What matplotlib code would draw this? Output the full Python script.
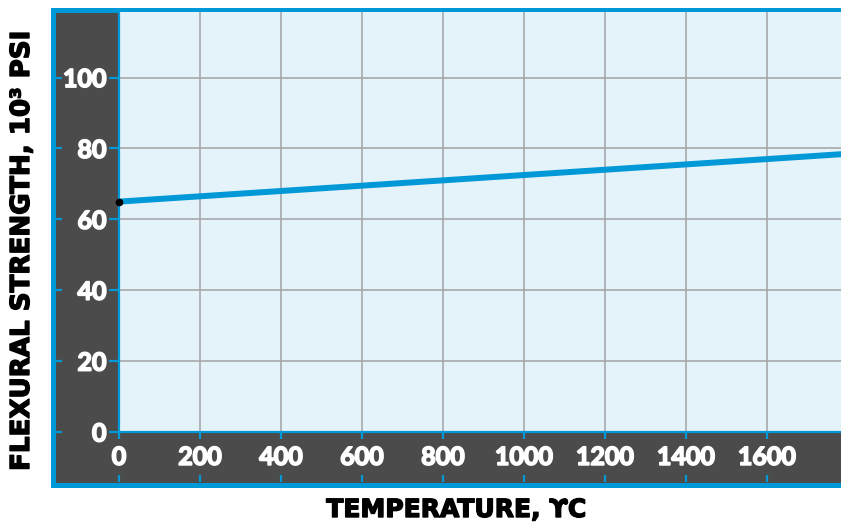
import numpy as np
import matplotlib.pyplot as plt
import matplotlib.patheffects as pe

# data
temp = [0, 1800]
strength = [65, 78.5]
xticks = [0, 200, 400, 600, 800, 1000, 1200, 1400, 1600]
yticks = [0, 20, 40, 60, 80, 100]

blue = '#0098d6'
dark = '#4b4b4b'
pale = '#e4f2fa'
W, H = 841, 527

def box(l, t, r, b):
    # pixel box -> figure fraction rect
    return [l / W, 1 - b / H, (r - l) / W, (b - t) / H]

plt.rcParams['font.family'] = ['Lato', 'DejaVu Sans']

fig = plt.figure(figsize=(W / 100, H / 100), dpi=100)

# dark frame with blue border
bg = fig.add_axes(box(52.5, 9.5, 860, 484.5))
bg.set_facecolor(dark)
bg.set_xticks([])
bg.set_yticks([])
for s in bg.spines.values():
    s.set_color(blue)
    s.set_linewidth(3.6)

ax = fig.add_axes(box(119, 12, 841, 432))
ax.set_facecolor(pale)
ax.set_xlim(0, 1783)
ax.set_ylim(0, 118.5)
ax.set_xticks(xticks)
ax.set_yticks(yticks)
ax.grid(True, color='#a3a3a3', linewidth=1.1)
ax.set_axisbelow(True)
for k in ['top', 'right']:
    ax.spines[k].set_visible(False)
for k in ['left', 'bottom']:
    ax.spines[k].set_color(blue)
    ax.spines[k].set_linewidth(1.6)

ax.tick_params(axis='y', direction='out', length=7, width=1.6, color=blue,
               labelcolor='white', labelsize=18, pad=2)
ax.tick_params(axis='x', direction='out', length=5, width=1.6, color=blue,
               labelcolor='white', labelsize=18, pad=5)
thick = [pe.withStroke(linewidth=1.2, foreground='white')]
for lab in ax.get_xticklabels() + ax.get_yticklabels():
    lab.set_fontweight('bold')
    lab.set_path_effects(thick)

# outer ticks at the far edge of the dark bands
sy = ax.secondary_yaxis(-64 / 722)
sy.set_yticks(yticks)
sy.tick_params(direction='in', length=5, width=1.6, color=blue, labelleft=False)
sy.spines['left'].set_visible(False)
sx = ax.secondary_xaxis(-50 / 420)
sx.set_xticks(xticks)
sx.tick_params(direction='in', length=5, width=1.6, color=blue, labelbottom=False)
sx.spines['bottom'].set_visible(False)

ax.plot(temp, strength, color=blue, linewidth=4.3, solid_capstyle='butt')
ax.plot(temp[0], strength[0], 'o', color='black', markersize=4.5, clip_on=False, zorder=5)

heavy = [pe.withStroke(linewidth=1.0, foreground='black')]
fig.text(456 / W, 1 - 510 / H, 'TEMPERATURE, ϒC', ha='center', va='center',
         fontsize=18, fontweight='bold', family='DejaVu Sans', color='black',
         path_effects=heavy)
fig.text(22 / W, 1 - 251 / H, 'FLEXURAL STRENGTH, 10³ PSI', ha='center', va='center',
         rotation=90, fontsize=18.8, fontweight='bold', family='DejaVu Sans', color='black',
         path_effects=heavy)

fig.savefig('out.png', dpi=100)
